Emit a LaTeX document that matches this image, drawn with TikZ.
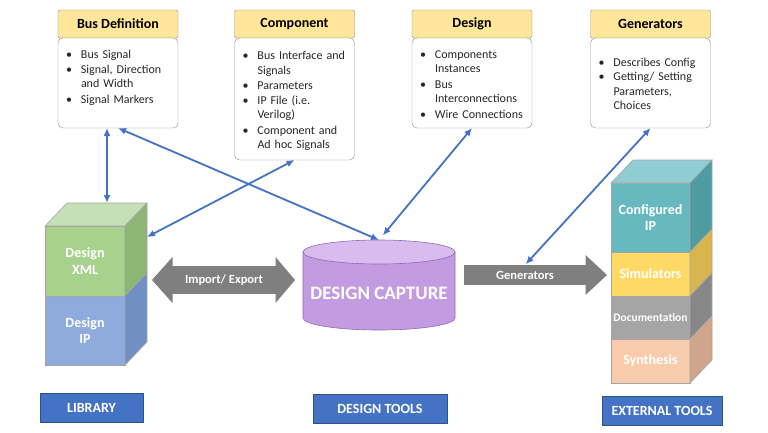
\documentclass[tikz,border=0pt]{standalone}
\usepackage{fontspec}
\setmainfont{Carlito}
\usepackage{xcolor}
\usetikzlibrary{positioning, arrows.meta, calc}

\definecolor{linkblue}{HTML}{4472C4}
\definecolor{headyellow}{HTML}{FFE699}
\definecolor{boxgray}{HTML}{8C8C8C}
\definecolor{tagblue}{HTML}{4472C4}
\definecolor{tagedge}{HTML}{2F528F}
\definecolor{arrowgray}{HTML}{7F7F7F}
\definecolor{xmlfront}{HTML}{A9D18E}
\definecolor{xmlside}{HTML}{8DB573}
\definecolor{xmltop}{HTML}{C5E0B4}
\definecolor{ipfront}{HTML}{8FAADC}
\definecolor{ipside}{HTML}{7090C4}
\definecolor{cfgfront}{HTML}{67B9BF}
\definecolor{cfgside}{HTML}{4E9CA2}
\definecolor{cfgtop}{HTML}{8FCDD2}
\definecolor{simfront}{HTML}{FFD966}
\definecolor{simside}{HTML}{D9B54E}
\definecolor{docfront}{HTML}{A5A5A5}
\definecolor{docside}{HTML}{878787}
\definecolor{synfront}{HTML}{F8CBAD}
\definecolor{synside}{HTML}{CFA68C}
\definecolor{capbody}{HTML}{C39BE0}
\definecolor{captop}{HTML}{DABBF0}
\definecolor{capedge}{HTML}{8E6BAE}

\setlength{\lineskip}{0pt}
\newcommand{\itm}[1]{\par\noindent\strut\makebox[15pt][l]{\textbullet}%
  \parbox[t]{89pt}{\raggedright\strut #1\strut}}

\begin{document}
\begin{tikzpicture}[ x = 1pt, y = -1pt
                     , >={Latex[length=8pt, width=7pt]}
                     , titlebox/.style = { rectangle
                                         , rounded corners = 2pt
                                         , draw = boxgray
                                         , fill = headyellow
                                         , minimum width = 120pt
                                         , minimum height = 28pt
                                         , inner sep = 0pt, outer sep = 0pt
                                         , font = \fontsize{14}{16}\selectfont\bfseries }
                     , notebox/.style = { rectangle
                                        , rounded corners = 5pt
                                        , draw = boxgray
                                        , fill = white
                                        , text width = 104pt
                                        , inner xsep = 8pt, inner ysep = 0pt, outer sep = 0pt
                                        , align = left
                                        , text = black!85
                                        , font = \fontsize{12}{14.5}\selectfont }
                     , blockface/.style = { rectangle
                                          , draw = black!35, line width = 0.6pt
                                          , minimum width = 80pt
                                          , inner sep = 0pt, outer sep = 0pt
                                          , text = white, align = center
                                          , font = \fontsize{14}{16.5}\selectfont\bfseries }
                     , blockedge/.style = { draw = black!35, line width = 0.6pt }
                     , link/.style = { <->, draw = linkblue, line width = 1.8pt }
                     , tagbox/.style = { rectangle
                                       , fill = tagblue, draw = tagedge
                                       , text = white
                                       , inner sep = 0pt
                                       , minimum height = 29pt
                                       , font = \fontsize{14}{16}\selectfont\bfseries }
                     , pointer/.style = { rectangle
                                        , fill = arrowgray
                                        , inner sep = 0pt, outer sep = 0pt
                                        , text = white
                                        , font = \fontsize{12.5}{14}\selectfont\bfseries }
                     ]

  \path[use as bounding box, fill = white] (0,0) rectangle (768,432);

  % info boxes on top
  \node (busdef) [titlebox] at (118,24) {Bus Definition};
  \node (busbody) [notebox, minimum height = 90pt, below = 0pt of busdef]
  {\itm{Bus Signal}
   \itm{Signal, Direction\\and Width}
   \itm{Signal Markers}\par\strut};

  \node (comp) [titlebox] at (294.5,24) {Component};
  \node (compbody) [notebox, minimum height = 122pt, below = 0pt of comp]
  {\itm{Bus Interface and\\Signals}
   \itm{Parameters}
   \itm{IP File (i.e.\\Verilog)}
   \itm{Component and\\Ad hoc Signals}};

  \node (design) [titlebox] at (472,24) {Design};
  \node (designbody) [notebox, minimum height = 90pt, below = 0pt of design]
  {\itm{Components\\Instances}
   \itm{Bus\\Interconnections}
   \itm{Wire Connections}};

  \node (gen) [titlebox] at (650.5,24) {Generators};
  \node (genbody) [notebox, minimum height = 90pt, below = 0pt of gen]
  {\itm{Describes Config}
   \itm{Getting/ Setting\\Parameters,\\Choices}};

  % library stack
  \node (xml) [blockface, fill = xmlfront, minimum height = 70pt] at (85,261) {Design\\XML};
  \node (ip) [blockface, fill = ipfront, minimum height = 69pt, below = 0pt of xml] {Design\\IP};
  \filldraw[blockedge, fill = xmltop] (xml.north west) -- ++(22,-23)
    -- ($(xml.north east)+(22,-23)$) -- (xml.north east) -- cycle;
  \foreach \blk/\tone in {xml/xmlside, ip/ipside}
    \filldraw[blockedge, fill = \tone] (\blk.north east) -- ++(22,-23)
      -- ($(\blk.south east)+(22,-23)$) -- (\blk.south east) -- cycle;

  % external tools stack
  \node (cfg) [blockface, fill = cfgfront, minimum width = 79pt, minimum height = 69pt]
    at (650.5,217.5) {Configured\\IP};
  \node (sim) [blockface, fill = simfront, minimum width = 79pt, minimum height = 44pt,
    below = 0pt of cfg] {Simulators};
  \node (doc) [blockface, fill = docfront, minimum width = 79pt, minimum height = 43pt,
    below = 0pt of sim, font = \fontsize{11.5}{13}\selectfont\bfseries] {Documentation};
  \node (syn) [blockface, fill = synfront, minimum width = 79pt, minimum height = 44pt,
    below = 0pt of doc] {Synthesis};
  \filldraw[blockedge, fill = cfgtop] (cfg.north west) -- ++(22,-23)
    -- ($(cfg.north east)+(22,-23)$) -- (cfg.north east) -- cycle;
  \foreach \blk/\tone in {cfg/cfgside, sim/simside, doc/docside, syn/synside}
    \filldraw[blockedge, fill = \tone] (\blk.north east) -- ++(22,-23)
      -- ($(\blk.south east)+(22,-23)$) -- (\blk.south east) -- cycle;

  % design capture drum
  \node (capture) [minimum width = 152pt, minimum height = 66pt, inner sep = 0pt, outer sep = 0pt]
    at (379,285) {};
  \filldraw[fill = capbody, draw = capedge, line width = 0.6pt] (capture.north west)
    -- (capture.south west) arc[start angle = 180, end angle = 360, x radius = 76pt, y radius = 12pt]
    -- (capture.north east) -- cycle;
  \filldraw[fill = captop, draw = capedge, line width = 0.6pt]
    (capture.north) ellipse [x radius = 76pt, y radius = 12pt];
  \node (capturetext) [text = white, font = \fontsize{19}{22}\selectfont\bfseries]
    at ($(capture)+(0,8)$) {DESIGN CAPTURE};

  % grey block arrows
  \node (impexp) [pointer, minimum width = 104pt, minimum height = 28pt] at (224,280) {Import/ Export};
  \fill[arrowgray] ($(impexp.north east)+(-0.5,-9)$) -- ($(impexp.east)+(19,0)$)
    -- ($(impexp.south east)+(-0.5,9)$) -- cycle;
  \fill[arrowgray] ($(impexp.north west)+(0.5,-9)$) -- ($(impexp.west)+(-20,0)$)
    -- ($(impexp.south west)+(0.5,9)$) -- cycle;

  \node (genarrow) [pointer, minimum width = 122pt, minimum height = 20pt] at (525,275) {Generators};
  \fill[arrowgray] ($(genarrow.north east)+(-0.5,-10)$) -- ($(genarrow.east)+(21,0)$)
    -- ($(genarrow.south east)+(-0.5,10)$) -- cycle;

  % captions
  \node (library) [tagbox, minimum width = 103pt] at (91.5,407.5) {LIBRARY};
  \node (tools) [tagbox, minimum width = 134pt] at (380,408.5) {DESIGN TOOLS};
  \node (external) [tagbox, minimum width = 120pt] at (662,411) {EXTERNAL TOOLS};

  % blue links
  \coordinate (xmlback) at ($(xml.north)+(22,-23)$);
  \coordinate (xmlside) at ($(xml.east)+(22,-24)$);
  \coordinate (ctop) at ($(capture.north)+(0,-12)$);

  \draw[link] (busbody.south -| xmlback) -- (xmlback);
  \draw[link] (busbody.south) -- (ctop);
  \draw[link] (compbody.south) -- (xmlside);
  \draw[link, shorten > = 6pt] (designbody.south) -- (ctop);
  \draw[link, shorten > = 1pt] (genbody.south) -- (genarrow.north);

\end{tikzpicture}
\end{document}
